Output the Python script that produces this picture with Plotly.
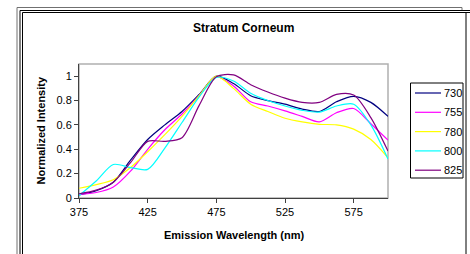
import plotly.graph_objects as go

wavelengths = [375, 387.5, 400, 412.5, 425, 437.5, 450, 462.5, 475, 487.5,
               500, 512.5, 525, 537.5, 550, 562.5, 575, 587.5, 600]
s730 = [0.025, 0.06, 0.13, 0.31, 0.48, 0.60, 0.71, 0.85, 1.0, 0.94,
        0.84, 0.80, 0.77, 0.73, 0.71, 0.79, 0.835, 0.785, 0.67]
s755 = [0.03, 0.045, 0.09, 0.22, 0.40, 0.56, 0.69, 0.84, 0.995, 0.92,
        0.79, 0.755, 0.715, 0.67, 0.625, 0.70, 0.735, 0.61, 0.475]
s780 = [0.08, 0.11, 0.15, 0.25, 0.38, 0.52, 0.67, 0.84, 1.0, 0.90,
        0.77, 0.71, 0.655, 0.625, 0.605, 0.60, 0.565, 0.48, 0.33]
s800 = [0.02, 0.14, 0.275, 0.25, 0.235, 0.41, 0.62, 0.83, 0.99, 0.96,
        0.86, 0.80, 0.755, 0.72, 0.705, 0.755, 0.77, 0.60, 0.32]
s825 = [0.035, 0.065, 0.13, 0.29, 0.465, 0.465, 0.495, 0.76, 0.995, 1.01,
        0.93, 0.87, 0.82, 0.785, 0.785, 0.85, 0.845, 0.66, 0.385]
series_names = ["730", "755", "780", "800", "825"]
series_colors = ["#000080", "#FF00FF", "#FFFF00", "#00FFFF", "#800080"]
x_ticks = [375, 425, 475, 525, 575]
y_ticks = [0, 0.2, 0.4, 0.6, 0.8, 1]
y_tick_labels = ["0", "0.2", "0.4", "0.6", "0.8", "1"]

W, H = 470, 254
L, R, T, B = 79, 388, 64, 198  # plot area in pixels

def px(x):
    return (x - L) / (R - L)

def py(y):
    return (B - y) / (B - T)

FONT = "Arial, Liberation Sans, sans-serif"

fig = go.Figure()
for name, vals, col in zip(series_names, [s730, s755, s780, s800, s825], series_colors):
    fig.add_trace(go.Scatter(
        x=wavelengths, y=vals, name=name, mode="lines", showlegend=False,
        line=dict(color=col, width=1.2, shape="spline", smoothing=0.8),
    ))

shapes = []
# plot-area border (gray)
shapes.append(dict(type="rect", xref="paper", yref="paper", x0=0, x1=1, y0=0, y1=1,
                   line=dict(color="#b0b0b0", width=1.5), layer="below"))

def hline(x0, x1, y, color, w=1):
    shapes.append(dict(type="line", xref="paper", yref="paper",
                       x0=px(x0), x1=px(x1), y0=py(y), y1=py(y),
                       line=dict(color=color, width=w)))

def vline(x, y0, y1, color, w=1):
    shapes.append(dict(type="line", xref="paper", yref="paper",
                       x0=px(x), x1=px(x), y0=py(y0), y1=py(y1),
                       line=dict(color=color, width=w)))

# outer chart frame lines
hline(17, 462, 7.5, "#707070")
vline(17, 7.5, 254, "#707070")
vline(462, 7.5, 11, "#707070")
hline(20, 470, 10.5, "#000000")
hline(22.5, 470, 12.5, "#000000")
vline(20, 10.5, 254, "#000000")
vline(22.5, 12.5, 254, "#000000")
vline(466, 12.5, 254, "#000000")

annotations = [
    dict(text="<b>Stratum Corneum</b>", xref="paper", yref="paper",
         x=px(243), y=py(28), xanchor="center", yanchor="middle", showarrow=False,
         font=dict(family=FONT, size=12, color="#000000")),
    dict(text="<b>Normalized Intensity</b>", xref="paper", yref="paper",
         x=px(40), y=py(130.5), xanchor="center", yanchor="middle", showarrow=False,
         textangle=-90, font=dict(family=FONT, size=11, color="#000000")),
    dict(text="<b>Emission Wavelength (nm)</b>", xref="paper", yref="paper",
         x=px(234), y=py(235), xanchor="center", yanchor="middle", showarrow=False,
         font=dict(family=FONT, size=11, color="#000000")),
]

# legend box (drawn as shapes + text, Excel style)
LG_X0, LG_X1, LG_Y0, LG_Y1 = 410.5, 463, 83, 178
shapes.append(dict(type="rect", xref="paper", yref="paper",
                   x0=px(LG_X0), x1=px(LG_X1), y0=py(LG_Y1), y1=py(LG_Y0),
                   line=dict(color="#000000", width=1), fillcolor="white"))
for i, (name, col) in enumerate(zip(series_names, series_colors)):
    yy = 93 + i * 19.3
    hline(415, 441, yy, col, 1.2)
    annotations.append(dict(text=name, xref="paper", yref="paper",
                            x=px(441.5), y=py(yy), xanchor="left", yanchor="middle",
                            showarrow=False, font=dict(family=FONT, size=11, color="#000000")))

fig.update_layout(
    width=W, height=H,
    margin=dict(l=L, r=W - R, t=T, b=H - B, pad=0),
    paper_bgcolor="white", plot_bgcolor="white",
    showlegend=False,
    shapes=shapes,
    annotations=annotations,
    font=dict(family=FONT, size=11, color="#000000"),
)
fig.update_xaxes(range=[375, 600], tickmode="array", tickvals=x_ticks,
                 ticks="outside", ticklen=4, tickcolor="#404040", showgrid=False,
                 showline=True, linecolor="#404040", linewidth=1, zeroline=False,
                 tickfont=dict(family=FONT, size=11, color="#000000"))
fig.update_yaxes(range=[0, 1.1], tickmode="array", tickvals=y_ticks, ticktext=y_tick_labels,
                 ticks="outside", ticklen=4, tickcolor="#404040", showgrid=False,
                 showline=True, linecolor="#404040", linewidth=1, zeroline=False,
                 tickfont=dict(family=FONT, size=11, color="#000000"))

fig.write_html("out.html", config={"displayModeBar": False},
               post_script="document.body.style.margin='0';document.body.style.padding='0';")
